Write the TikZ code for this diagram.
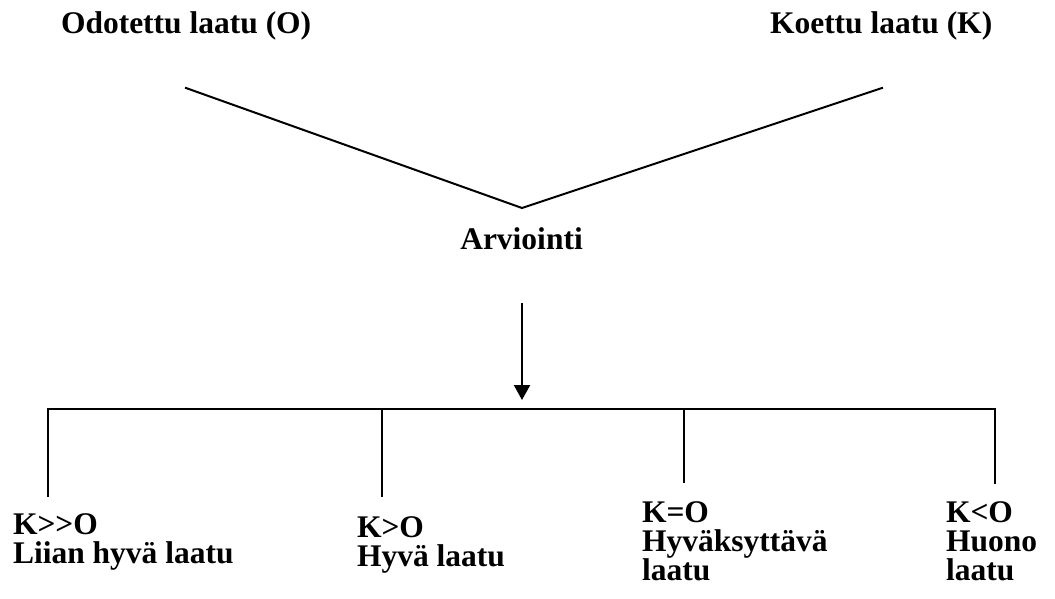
\documentclass[tikz,border=0pt]{standalone}
\usepackage{fontspec}
\setmainfont{Liberation Serif}
\usetikzlibrary{arrows.meta}
\begin{document}
\begin{tikzpicture}[x=1pt,y=-1pt,
  lbl/.style={inner sep=0pt,outer sep=0pt,font=\bfseries\fontsize{31.5}{29}\selectfont,align=left},
  ln/.style={line width=2pt,line cap=rect},
  arr/.style={line width=2.2pt,-{Triangle[width=16pt,length=15pt]}}]
\useasboundingbox[fill=white] (0,0) rectangle (1055,598);
% top labels
\node[lbl,anchor=base west] (odo) at (61,33) {Odotettu laatu (O)};
\node[lbl,anchor=base west] (koe) at (770,33) {Koettu laatu (K)};
\node[lbl,anchor=base] (arv) at (521.5,249) {Arviointi};
% V
\coordinate (vl) at (186,88);
\coordinate (vapex) at (522,208);
\coordinate (vr) at (882,88);
\draw[ln,line join=miter] (vl) -- (vapex) -- (vr);
% arrow
\coordinate (atop) at (522,303);
\coordinate (atip) at (522,400);
\draw[arr] (atop) -- (atip);
% bar
\coordinate (b1) at (48,409);
\coordinate (b2) at (382,409);
\coordinate (b3) at (684,409);
\coordinate (b4) at (995,409);
\coordinate (e1) at (48,496);
\coordinate (e2) at (382,496);
\coordinate (e3) at (684,482);
\coordinate (e4) at (995,483);
\draw[ln] (b1) -- (b4);
\draw[ln] (b1) -- (e1);
\draw[ln] (b2) -- (e2);
\draw[ln] (b3) -- (e3);
\draw[ln] (b4) -- (e4);
% bottom labels (base = baseline of last line)
\node[lbl,anchor=base west] (r1) at (13,563) {K>{}>O\\Liian hyvä laatu};
\node[lbl,anchor=base west] (r2) at (357,566) {K>O\\Hyvä laatu};
\node[lbl,anchor=base west] (r3) at (642,580) {K=O\\Hyväksyttävä\\laatu};
\node[lbl,anchor=base west] (r4) at (946,580) {K<O\\Huono\\laatu};
\end{tikzpicture}
\end{document}
